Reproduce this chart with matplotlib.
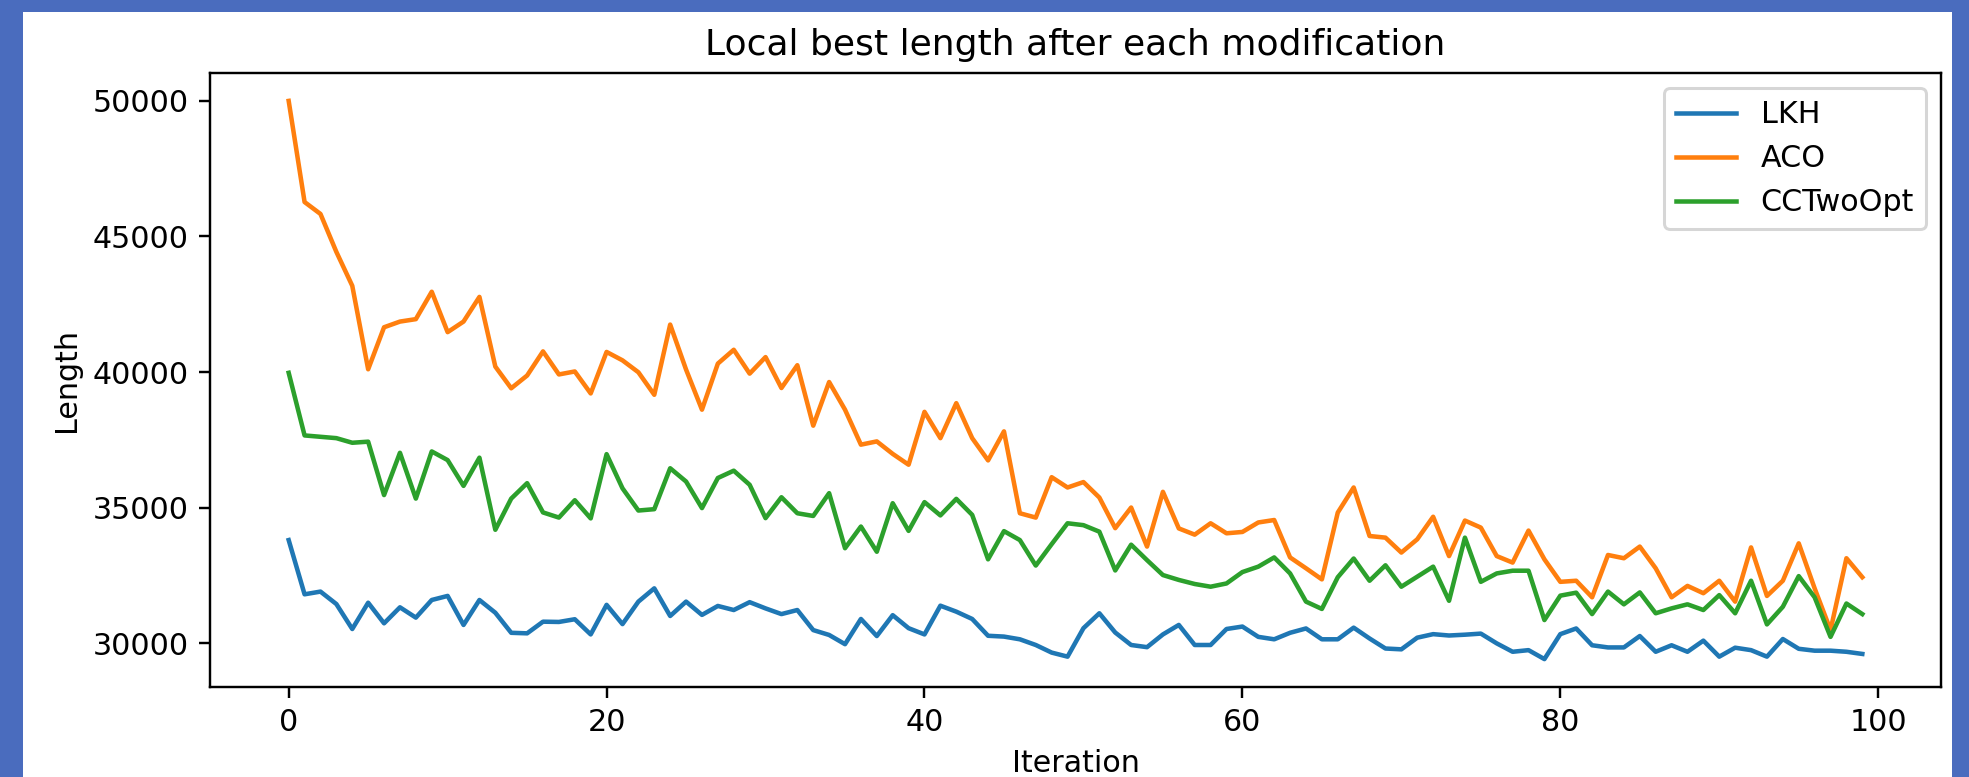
import matplotlib
matplotlib.use("Agg")
import matplotlib.pyplot as plt
from matplotlib.patches import Rectangle

# values
iterations = list(range(100))

lkh = [33800, 31800, 31900, 31440, 30520, 31490, 30730, 31320, 30940, 31590,
       31740, 30670, 31590, 31120, 30380, 30360, 30790, 30780, 30880, 30320,
       31410, 30700, 31530, 32020, 31000, 31530, 31040, 31370, 31220, 31510,
       31280, 31070, 31220, 30480, 30300, 29960, 30890, 30260, 31030, 30550,
       30320, 31380, 31160, 30890, 30270, 30240, 30140, 29930, 29650, 29500,
       30550, 31100, 30390, 29930, 29850, 30320, 30670, 29930, 29930, 30520,
       30610, 30230, 30140, 30380, 30540, 30140, 30140, 30570, 30170, 29800,
       29770, 30200, 30330, 30280, 30310, 30350, 29990, 29680, 29740, 29410,
       30330, 30540, 29920, 29840, 29840, 30260, 29680, 29920, 29680, 30090,
       29500, 29830, 29740, 29500, 30150, 29790, 29720, 29720, 29680, 29600]

aco = [50000, 46270, 45830, 44430, 43180, 40100, 41650, 41860, 41950, 42960,
       41470, 41860, 42770, 40200, 39400, 39870, 40760, 39910, 40020, 39210,
       40740, 40430, 39990, 39160, 41750, 40090, 38610, 40310, 40820, 39940,
       40550, 39410, 40250, 38020, 39630, 38610, 37320, 37440, 36980, 36580,
       38530, 37560, 38850, 37560, 36740, 37810, 34790, 34630, 36120, 35740,
       35940, 35370, 34240, 35000, 33560, 35580, 34230, 34000, 34420, 34050,
       34100, 34450, 34540, 33160, 32760, 32350, 34815, 35740, 33950, 33890,
       33340, 33830, 34660, 33210, 34520, 34260, 33210, 32970, 34150, 33090,
       32260, 32300, 31690, 33250, 33130, 33560, 32760, 31690, 32110, 31840,
       32300, 31530, 33530, 31740, 32300, 33680, 32020, 30480, 33130, 32430]

cc2opt = [39970, 37660, 37610, 37560, 37390, 37430, 35460, 37020, 35330, 37070,
          36750, 35800, 36840, 34180, 35330, 35900, 34820, 34630, 35270, 34600,
          36970, 35710, 34890, 34940, 36450, 35960, 34980, 36090, 36360, 35840,
          34610, 35380, 34790, 34690, 35530, 33500, 34300, 33370, 35160, 34140,
          35200, 34710, 35320, 34730, 33090, 34130, 33800, 32860, 33650, 34420,
          34350, 34110, 32680, 33630, 33060, 32510, 32330, 32180, 32080, 32200,
          32620, 32820, 33160, 32570, 31530, 31260, 32430, 33120, 32300, 32870,
          32080, 32450, 32820, 31560, 33890, 32260, 32570, 32670, 32670, 30850,
          31750, 31860, 31070, 31900, 31430, 31870, 31100, 31280, 31430, 31220,
          31770, 31100, 32300, 30690, 31340, 32470, 31690, 30230, 31460, 31070]

W, H, DPI = 1969, 777, 217
fig = plt.figure(figsize=(W / DPI, H / DPI), dpi=DPI)
fig.patch.set_facecolor("#4a6cbe")

# white page area of the screenshot, kept behind the axes
page = Rectangle((23 / W, 0), (1952 - 23) / W, (H - 12) / H,
                 transform=fig.transFigure, facecolor="white",
                 edgecolor="none", zorder=-10)
fig.add_artist(page)

ax = fig.add_axes([210 / W, 1 - 687 / H, (1941 - 210) / W, (687 - 73) / H])
ax.set_zorder(1)
ax.plot(iterations, lkh, label="LKH")
ax.plot(iterations, aco, label="ACO")
ax.plot(iterations, cc2opt, label="CCTwoOpt")
ax.set_title("Local best length after each modification")
ax.set_xlabel("Iteration")
ax.set_ylabel("Length")
ax.legend(loc="upper right")

fig.savefig("out.png", dpi=DPI, facecolor=fig.get_facecolor())
